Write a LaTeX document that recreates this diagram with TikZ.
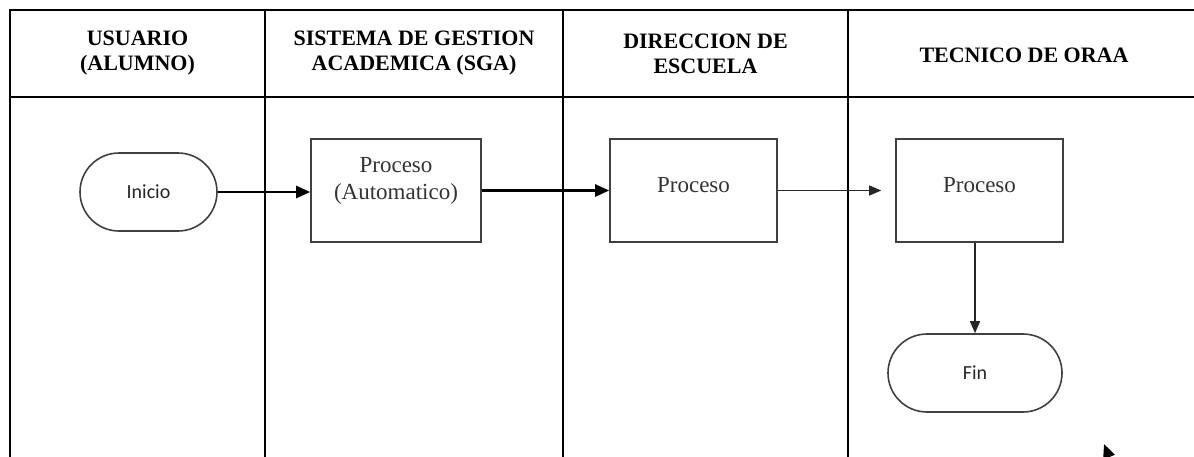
\documentclass[tikz,border=0pt]{standalone}
\usepackage{fontspec}
\setmainfont{Liberation Serif}
\newfontfamily\calib{Carlito}
\usetikzlibrary{arrows.meta}
\begin{document}
\begin{tikzpicture}[x=0.5pt,y=-0.5pt,
  lane/.style={line width=1.45pt, draw=black},
  hdr/.style={font=\bfseries\fontsize{11}{12.5}\selectfont, align=center, text=black, inner sep=0pt},
  proc/.style={draw=black!75, line width=0.8pt, font=\fontsize{11.5}{13.5}\selectfont, text=black!80, align=center, inner sep=0pt, minimum height=51.5pt},
  term/.style={draw=black!75, line width=0.8pt, font=\calib\fontsize{10}{12}\selectfont, text=black!85, rounded corners=19.5pt, minimum height=39pt, inner sep=0pt},
  flow/.style={-{Triangle[length=7pt,width=6pt]}, line width=1.2pt, draw=black},
  thinflow/.style={-{Triangle[length=6pt,width=5pt]}, line width=0.65pt, draw=black!85}]
\useasboundingbox (0,0) rectangle (1194,456);
\clip (0,0) rectangle (1194,456);
\fill[white] (0,0) rectangle (1194,456);
% swimlane table
\draw[lane] (1210,10) -- (10,10) -- (10,480);
\draw[lane] (10,97) -- (1210,97);
\draw[lane] (265,10) -- (265,480);
\draw[lane] (563,10) -- (563,480);
\draw[lane] (848,10) -- (848,480);
% headers
\node[hdr] (h1) at (137.5,53) {USUARIO\\(ALUMNO)};
\node[hdr] (h2) at (414,53) {SISTEMA DE GESTION\\ACADEMICA (SGA)};
\node[hdr] (h3) at (705.5,54) {DIRECCION DE\\ESCUELA};
\node[hdr] (h4) at (1024,55) {TECNICO DE ORAA};
% flow nodes
\node[term, minimum width=68.5pt] (ini) at (148.5,192) {Inicio};
\node[proc, minimum width=85pt, text depth=12pt] (p1) at (396,190.5) {Proceso\\(Automatico)};
\node[proc, minimum width=83.5pt, text depth=6pt] (p2) at (693.5,190.5) {Proceso};
\node[proc, minimum width=83.5pt, text depth=6pt] (p3) at (979.5,190.5) {Proceso};
\node[term, minimum width=87pt] (fin) at (975,373) {Fin};
% connectors
\draw[flow] (ini.east) -- (ini.east -| p1.west);
\draw[flow] (p1.east) -- (p2.west);
\draw[thinflow, shorten >=7pt] (p2.east) -- (p3.west);
\draw[thinflow] (p3.south -| fin.north) -- (fin.north);
\coordinate (cutA) at (1118,480);
\coordinate (cutB) at (1104,444);
\draw[flow] (cutA) -- (cutB);
\end{tikzpicture}
\end{document}
